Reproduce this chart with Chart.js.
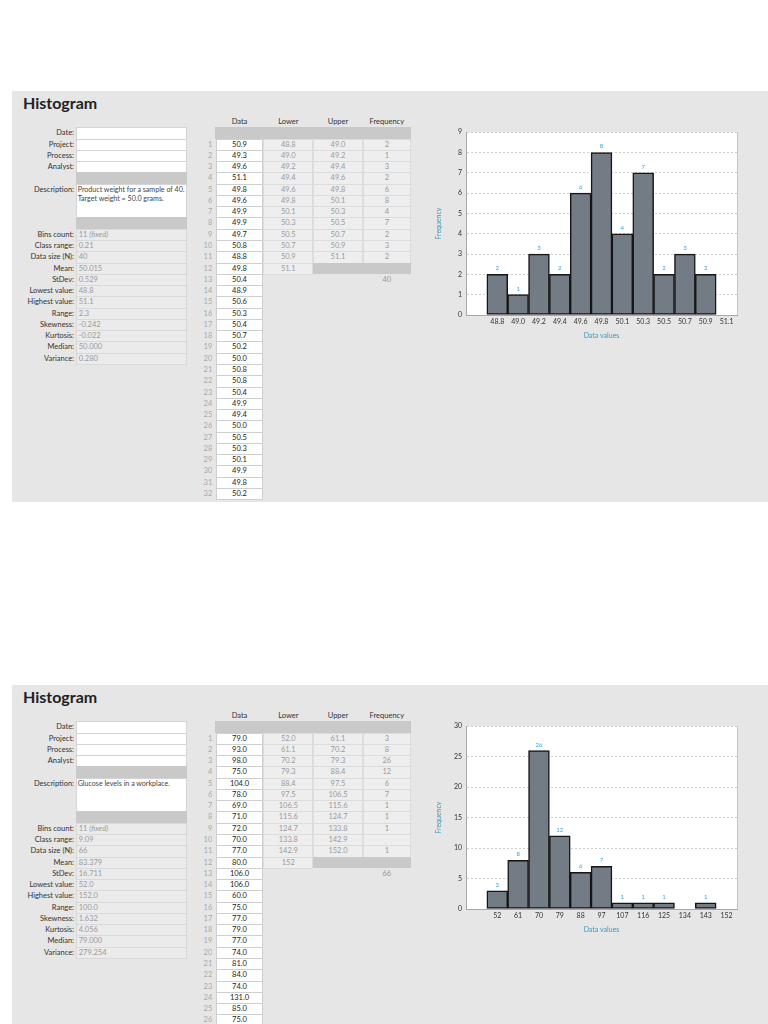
<!DOCTYPE html>
<html lang="en">
<head>
<meta charset="utf-8">
<title>Histogram</title>
<script src="https://cdn.jsdelivr.net/npm/chart.js@4.4.1/dist/chart.umd.min.js"></script>
<style>
  body { margin:0; width:768px; height:1024px; overflow:hidden; position:relative; background:#fff; font-family:Lato, "Liberation Sans", sans-serif; }
  .c { position:absolute; box-sizing:border-box; font-size:7.5px; white-space:nowrap; overflow:hidden; }
  .panel { background:#e6e6e6; }
  .title { font-size:16px; font-weight:bold; line-height:19px; color:#222; }
  .lbl { text-align:right; color:#333; padding-right:1px; }
  .inp { background:#fff; border:1px solid #d4d4d4; }
  .desc { padding:0 1px; color:#444; font-size:7.1px; }
  .gbar { background:#c9c9c9; }
  .stat { background:#ebebeb; border:1px solid #d9d9d9; color:#9a9a9a; padding-left:2px; }
  .hdr { text-align:center; color:#333; }
  .rnum { text-align:right; color:#a8a8a8; }
  .dat { background:#fff; border:1px solid #cfcfcf; text-align:center; color:#222; }
  .bin { background:#eeeeee; border:1px solid #dcdcdc; text-align:center; color:#9a9a9a; }
  .tot { text-align:center; color:#9a9a9a; }
  canvas { position:absolute; }
</style>
</head>
<body>

<script>

// ---- first sheet: product weight ----
const dataA  = [50.9,49.3,49.6,51.1,49.8,49.6,49.9,49.9,49.7,50.8,48.8,49.8,50.4,48.9,50.6,50.3,
                50.4,50.7,50.2,50.0,50.8,50.8,50.4,49.9,49.4,50.0,50.5,50.3,50.1,49.9,49.8,50.2];
const lowerA = ['48.8','49.0','49.2','49.4','49.6','49.8','50.1','50.3','50.5','50.7','50.9','51.1'];
const upperA = ['49.0','49.2','49.4','49.6','49.8','50.1','50.3','50.5','50.7','50.9','51.1'];
const freqA  = [2,1,3,2,6,8,4,7,2,3,2];
const ticksA = ['48.8','49.0','49.2','49.4','49.6','49.8','50.1','50.3','50.5','50.7','50.9','51.1'];
const statsA = ['11 <i>(fixed)</i>','0.21','40','50.015','0.529','48.8','51.1','2.3','-0.242','-0.022','50.000','0.280'];
const descA  = ['Product weight for a sample of 40.', 'Target weight = 50.0 grams.'];

// ---- second sheet: glucose ----
const dataB  = [79.0,93.0,98.0,75.0,104.0,78.0,69.0,71.0,72.0,70.0,77.0,80.0,106.0,106.0,60.0,75.0,
                77.0,79.0,77.0,74.0,81.0,84.0,74.0,131.0,85.0,75.0];
const lowerB = ['52.0','61.1','70.2','79.3','88.4','97.5','106.5','115.6','124.7','133.8','142.9','152'];
const upperB = ['61.1','70.2','79.3','88.4','97.5','106.5','115.6','124.7','133.8','142.9','152.0'];
const freqB  = [3,8,26,12,6,7,1,1,1,null,1];
const ticksB = ['52','61','70','79','88','97','107','116','125','134','143','152'];
const statsB = ['11 <i>(fixed)</i>','9.09','66','83.379','16.711','52.0','152.0','100.0','1.632','4.056','79.000','279.254'];
const descB  = ['Glucose levels in a workplace.'];

const statLabels = ['Bins count:','Class range:','Data size (N):','Mean:','StDev:','Lowest value:',
                    'Highest value:','Range:','Skewness:','Kurtosis:','Median:','Variance:'];
const ROW = 11.27;

// absolutely placed cell; bordered cells get 2px less line height so text stays centred
function add(cls, x, y, w, h, html, lh) {
  var d = document.createElement('div');
  d.className = 'c ' + cls;
  d.style.left = x + 'px'; d.style.top = y + 'px';
  if (w != null) d.style.width = w + 'px';
  if (h != null) {
    d.style.height = h + 'px';
    var bordered = /inp|stat|dat|bin/.test(cls);
    d.style.lineHeight = (lh || (bordered ? h - 2 : h)) + 'px';
  }
  if (html != null) d.innerHTML = html;
  document.body.appendChild(d);
  return d;
}

function sheet(py, ph, desc, stats, data, lower, upper, freq, ticks, yMax, yStep) {
  add('panel', 12, py, 756, ph);
  add('title', 23, py + 2, null, null, 'Histogram');
  var y0 = py + 36.3;  // first spreadsheet row

  // left block
  ['Date:','Project:','Process:','Analyst:'].forEach(function(t, i) {
    add('lbl', 0, y0 + i*ROW, 75, ROW, t);
    add('inp', 75.7, y0 + i*ROW, 111, ROW + 1);
  });
  add('gbar', 75.7, y0 + 4*ROW, 111, ROW);
  add('lbl', 0, y0 + 5*ROW, 75, ROW, 'Description:');
  add('inp desc', 75.7, y0 + 5*ROW, 111, 3*ROW + 1, desc.join('<br>'), 9.6);
  add('gbar', 75.7, y0 + 8*ROW, 111, ROW);
  statLabels.forEach(function(t, i) {
    var y = y0 + (9 + i)*ROW;
    add('lbl', 0, y, 75, ROW, t);
    add('stat', 75.7, y, 111, ROW + 1, stats[i]);
  });

  // data table
  add('hdr', 215.7, y0 - ROW, 47.6, ROW, 'Data');
  add('hdr', 263.3, y0 - ROW, 50, ROW, 'Lower');
  add('hdr', 313.3, y0 - ROW, 49.4, ROW, 'Upper');
  add('hdr', 362.7, y0 - ROW, 48.3, ROW, 'Frequency');
  add('gbar', 215, y0, 196, ROW);
  data.forEach(function(v, i) {
    var y = y0 + (i + 1)*ROW;
    add('rnum', 195, y, 17.3, ROW, String(i + 1));
    add('dat', 215.7, y, 47.6, ROW + 1, v.toFixed(1));
  });
  lower.forEach(function(v, i) {
    add('bin', 263.3, y0 + (i + 1)*ROW, 50, ROW + 1, v);
  });
  upper.forEach(function(v, i) {
    var y = y0 + (i + 1)*ROW;
    add('bin', 313.3, y, 49.4, ROW + 1, v);
    add('bin', 362.7, y, 48.3, ROW + 1, freq[i] == null ? '' : String(freq[i]));
  });
  add('gbar', 313.3, y0 + (upper.length + 1)*ROW, 97.7, ROW);
  var total = freq.reduce(function(a, b) { return a + (b || 0); }, 0);
  add('tot', 362.7, y0 + (upper.length + 2)*ROW, 48.3, ROW, String(total));

  // chart
  var cv = document.createElement('canvas');
  cv.width = 320; cv.height = 222;
  cv.style.left = '430px'; cv.style.top = (py + 33) + 'px';
  document.body.appendChild(cv);
  histogram(cv, ticks, freq, yMax, yStep);
}

// white plot area + right edge
const plotFrame = {
  id: 'plotFrame',
  beforeDraw(chart) {
    var a = chart.chartArea, ctx = chart.ctx;
    ctx.save();
    ctx.fillStyle = '#fff';
    ctx.fillRect(a.left, a.top, a.right - a.left, a.bottom - a.top);
    ctx.restore();
  },
  afterDraw(chart) {
    var a = chart.chartArea, ctx = chart.ctx;
    ctx.save();
    ctx.strokeStyle = '#c4c4c4';
    ctx.lineWidth = 1;
    ctx.beginPath();
    ctx.moveTo(a.right + 0.5, a.top);
    ctx.lineTo(a.right + 0.5, a.bottom);
    ctx.stroke();
    ctx.restore();
  }
};

// frequency numbers above the bars
const barLabels = {
  id: 'barLabels',
  afterDatasetsDraw(chart) {
    var ctx = chart.ctx;
    var meta = chart.getDatasetMeta(0);
    var vals = chart.data.datasets[0].data;
    ctx.save();
    ctx.fillStyle = '#2ea6de';
    ctx.font = '6px Lato';
    ctx.textAlign = 'center';
    ctx.textBaseline = 'bottom';
    meta.data.forEach(function(bar, i) {
      if (vals[i] == null) return;
      ctx.fillText(String(vals[i]), bar.x, bar.y - 3);
    });
    ctx.restore();
  }
};

function histogram(cv, ticks, freq, yMax, yStep) {
  new Chart(cv, {
    type: 'bar',
    data: {
      labels: [''].concat(ticks),            // empty slot before the first bin
      datasets: [{
        data: [null].concat(freq, [null]),
        backgroundColor: '#737b85',
        borderColor: '#151515',
        borderWidth: 1.5,
        borderSkipped: false,
        barPercentage: 1,
        categoryPercentage: 1
      }]
    },
    options: {
      responsive: false,
      animation: false,
      layout: { padding: { top: 7, right: 13, bottom: 0, left: 0 } },
      plugins: { legend: { display: false }, tooltip: { enabled: false } },
      scales: {
        x: {
          grid: { display: false, drawTicks: false },
          border: { display: true, color: '#a8a8a8' },
          ticks: { font: { size: 7, family: 'Lato' }, color: '#333', padding: 3, maxRotation: 0, autoSkip: false },
          title: { display: true, text: 'Data values', color: '#3d98b8', font: { size: 7, family: 'Lato' }, padding: { top: 0, bottom: 6 } },
          afterFit: function(s) { s.height = 31; }
        },
        y: {
          min: 0, max: yMax,
          grid: { color: '#cfcfcf', drawTicks: false },
          border: { display: true, color: '#a8a8a8', dash: [2, 2] },
          ticks: { stepSize: yStep, font: { size: 7, family: 'Lato' }, color: '#333', padding: 4 },
          title: { display: true, text: 'Frequency', color: '#3d98b8', font: { size: 7, family: 'Lato' }, padding: { top: 5, bottom: 0 } },
          afterFit: function(s) { s.width = 36; }
        }
      }
    },
    plugins: [plotFrame, barLabels]
  });
}

sheet(91, 411, descA, statsA, dataA, lowerA, upperA, freqA, ticksA, 9, 1);
sheet(685, 345, descB, statsB, dataB, lowerB, upperB, freqB, ticksB, 30, 5);

</script>
</body>
</html>
